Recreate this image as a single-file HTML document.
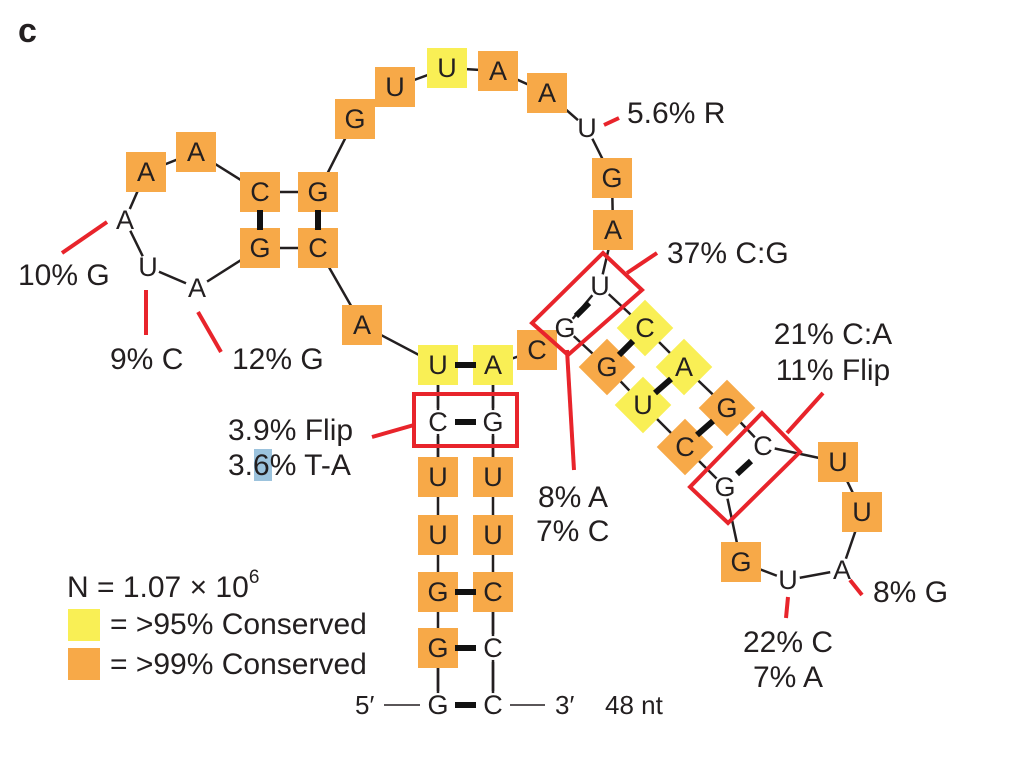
<!DOCTYPE html>
<html><head><meta charset="utf-8"><style>
html,body{margin:0;padding:0;background:#fff}
svg{display:block}
text{font-family:"Liberation Sans",Arial,sans-serif;fill:#231f20}
.n{font-size:27px;text-anchor:middle;dominant-baseline:central}
.l{font-size:30px}
</style></head><body>
<svg width="1023" height="778" viewBox="0 0 1023 778" xmlns="http://www.w3.org/2000/svg">
<g stroke="#231f20" stroke-width="2.5" fill="none">
<polyline points="362,325 318,248 318,192 355,119 395,87 447,68 498,71 547,93 587,128 612,178 613,230 600,286 565,328 537,350 493,365"/>
<polyline points="362,325 438,365 438,705"/>
<polyline points="493,365 493,705"/>
<polyline points="260,192 196,152 146,172 125,220 148,267 197,288 260,248 260,192"/>
<line x1="260" y1="192" x2="318" y2="192"/>
<line x1="260" y1="248" x2="318" y2="248"/>
<polyline points="600,286 645,328 684,367 727,408 763,446 838,462 862,512 842,570 788,580 741,562 725,487 685,447 643,405 607,367 565,328"/>
<line x1="384" y1="705" x2="420" y2="705" stroke-width="1.5"/>
<line x1="510" y1="705" x2="545" y2="705" stroke-width="1.5"/>
</g>
<!-- white backgrounds for unboxed letters -->
<g fill="#fff">
<circle cx="125" cy="220" r="12"/><circle cx="148" cy="267" r="12"/><circle cx="197" cy="288" r="12"/>
<circle cx="587" cy="128" r="12"/><circle cx="600" cy="286" r="12"/><circle cx="565" cy="328" r="12"/>
<circle cx="438" cy="422" r="12"/><circle cx="493" cy="422" r="12"/>
<circle cx="493" cy="648" r="12"/><circle cx="438" cy="705" r="12"/><circle cx="493" cy="705" r="12"/>
<circle cx="763" cy="446" r="12"/><circle cx="725" cy="487" r="12"/>
<circle cx="842" cy="570" r="12"/><circle cx="788" cy="580" r="12"/>
</g>
<g fill="#f7a948">
<rect x="126" y="152" width="40" height="40"/><rect x="176" y="132" width="40" height="40"/>
<rect x="240" y="172" width="40" height="40"/><rect x="298" y="172" width="40" height="40"/>
<rect x="240" y="228" width="40" height="40"/><rect x="298" y="228" width="40" height="40"/>
<rect x="342" y="305" width="40" height="40"/>
<rect x="335" y="99" width="40" height="40"/><rect x="375" y="67" width="40" height="40"/>
<rect x="478" y="51" width="40" height="40"/><rect x="527" y="73" width="40" height="40"/>
<rect x="592" y="158" width="40" height="40"/><rect x="593" y="210" width="40" height="40"/>
<rect x="517" y="330" width="40" height="40"/>
<rect x="418" y="457" width="40" height="40"/><rect x="473" y="457" width="40" height="40"/>
<rect x="418" y="515" width="40" height="40"/><rect x="473" y="515" width="40" height="40"/>
<rect x="418" y="572" width="40" height="40"/><rect x="473" y="572" width="40" height="40"/>
<rect x="418" y="628" width="40" height="40"/>
<rect x="818" y="442" width="40" height="40"/><rect x="842" y="492" width="40" height="40"/>
<rect x="721" y="542" width="40" height="40"/>
</g>
<g fill="#f9ef55">
<rect x="427" y="48" width="40" height="40"/>
<rect x="418" y="345" width="40" height="40"/><rect x="473" y="345" width="40" height="40"/>
</g>
<g transform="rotate(45 645 328)"><rect x="625" y="308" width="40" height="40" fill="#f9ef55"/></g>
<g transform="rotate(45 684 367)"><rect x="664" y="347" width="40" height="40" fill="#f9ef55"/></g>
<g transform="rotate(45 643 405)"><rect x="623" y="385" width="40" height="40" fill="#f9ef55"/></g>
<g transform="rotate(45 607 367)"><rect x="587" y="347" width="40" height="40" fill="#f7a948"/></g>
<g transform="rotate(45 727 408)"><rect x="707" y="388" width="40" height="40" fill="#f7a948"/></g>
<g transform="rotate(45 685 447)"><rect x="665" y="427" width="40" height="40" fill="#f7a948"/></g>
<!-- stem connectors between boxes on top -->
<g stroke="#231f20" stroke-width="2.5">
<line x1="438" y1="385" x2="438" y2="408"/><line x1="493" y1="385" x2="493" y2="408"/>
<line x1="438" y1="436" x2="438" y2="457"/><line x1="493" y1="436" x2="493" y2="457"/>
<line x1="493" y1="612" x2="493" y2="634"/><line x1="493" y1="662" x2="493" y2="691"/>
<line x1="438" y1="668" x2="438" y2="691"/>
</g>
<g stroke="#111" stroke-width="6">
<line x1="260" y1="210" x2="260" y2="230"/><line x1="318" y1="210" x2="318" y2="230"/>
<line x1="455" y1="365" x2="476" y2="365"/>
<line x1="455" y1="422" x2="476" y2="422"/>
<line x1="455" y1="592" x2="476" y2="592"/><line x1="455" y1="648" x2="476" y2="648"/>
<line x1="455" y1="705" x2="476" y2="705"/>
<line x1="576" y1="316" x2="589" y2="303"/>
<line x1="619" y1="355" x2="633" y2="341"/>
<line x1="655" y1="393" x2="671" y2="379"/>
<line x1="697" y1="435" x2="713" y2="421"/>
<line x1="737" y1="474" x2="751" y2="461"/>
</g>
<g class="n">
<text x="146" y="172">A</text><text x="196" y="152">A</text>
<text x="125" y="220">A</text><text x="148" y="267">U</text><text x="197" y="288">A</text>
<text x="260" y="192">C</text><text x="318" y="192">G</text>
<text x="260" y="248">G</text><text x="318" y="248">C</text>
<text x="362" y="325">A</text>
<text x="355" y="119">G</text><text x="395" y="87">U</text><text x="447" y="68">U</text>
<text x="498" y="71">A</text><text x="547" y="93">A</text><text x="587" y="128">U</text>
<text x="612" y="178">G</text><text x="613" y="230">A</text>
<text x="600" y="286">U</text><text x="565" y="328">G</text><text x="537" y="350">C</text>
<text x="438" y="365">U</text><text x="493" y="365">A</text>
<text x="438" y="422">C</text><text x="493" y="422">G</text>
<text x="438" y="477">U</text><text x="493" y="477">U</text>
<text x="438" y="535">U</text><text x="493" y="535">U</text>
<text x="438" y="592">G</text><text x="493" y="592">C</text>
<text x="438" y="648">G</text><text x="493" y="648">C</text>
<text x="438" y="705">G</text><text x="493" y="705">C</text>
<text x="645" y="328">C</text><text x="607" y="367">G</text>
<text x="684" y="367">A</text><text x="643" y="405">U</text>
<text x="727" y="408">G</text><text x="685" y="447">C</text>
<text x="763" y="446">C</text><text x="725" y="487">G</text>
<text x="838" y="462">U</text><text x="862" y="512">U</text>
<text x="842" y="570">A</text><text x="788" y="580">U</text><text x="741" y="562">G</text>
</g>
<g stroke="#e8242b" stroke-width="4" fill="none">
<rect x="414" y="394" width="103" height="52"/>
<polygon points="603,253 642,290 568,355 532,323"/>
<polygon points="762,413 800,452 728,523 690,487"/>
<line x1="627" y1="273" x2="657" y2="253"/>
<line x1="567" y1="350" x2="574" y2="470"/>
<line x1="787" y1="433" x2="823" y2="393"/>
<line x1="372" y1="437" x2="414" y2="425"/>
<line x1="604" y1="125" x2="619" y2="118"/>
<line x1="62" y1="253" x2="107" y2="222"/>
<line x1="146" y1="290" x2="146" y2="335"/>
<line x1="198" y1="312" x2="221" y2="352"/>
<line x1="850" y1="580" x2="862" y2="595"/>
<line x1="788" y1="597" x2="786" y2="618"/>
</g>
<rect x="254" y="449" width="18" height="32" fill="#9cc3dd"/>
<text x="18" y="42" style="font-size:34px;font-weight:bold">c</text>
<g class="l">
<text x="627" y="123">5.6% R</text>
<text x="667" y="263">37% C:G</text>
<text x="833" y="344" text-anchor="middle">21% C:A</text>
<text x="833" y="380" text-anchor="middle">11% Flip</text>
<text x="538" y="507">8% A</text>
<text x="536" y="541">7% C</text>
<text x="228" y="440">3.9% Flip</text>
<text x="228" y="475">3.6% T-A</text>
<text x="18" y="285">10% G</text>
<text x="110" y="369">9% C</text>
<text x="232" y="369">12% G</text>
<text x="873" y="602">8% G</text>
<text x="788" y="652" text-anchor="middle">22% C</text>
<text x="788" y="687" text-anchor="middle">7% A</text>
<text x="67" y="597">N = 1.07 × 10<tspan dy="-14" style="font-size:19px">6</tspan></text>
<text x="110" y="634">= &gt;95% Conserved</text>
<text x="110" y="674">= &gt;99% Conserved</text>
</g>
<rect x="68" y="609" width="32" height="32" fill="#f9ef55"/>
<rect x="68" y="648" width="32" height="32" fill="#f7a948"/>
<text x="355" y="714" style="font-size:26px">5′</text>
<text x="555" y="714" style="font-size:26px">3′</text>
<text x="605" y="714" style="font-size:26px">48 nt</text>
</svg>
</body></html>
